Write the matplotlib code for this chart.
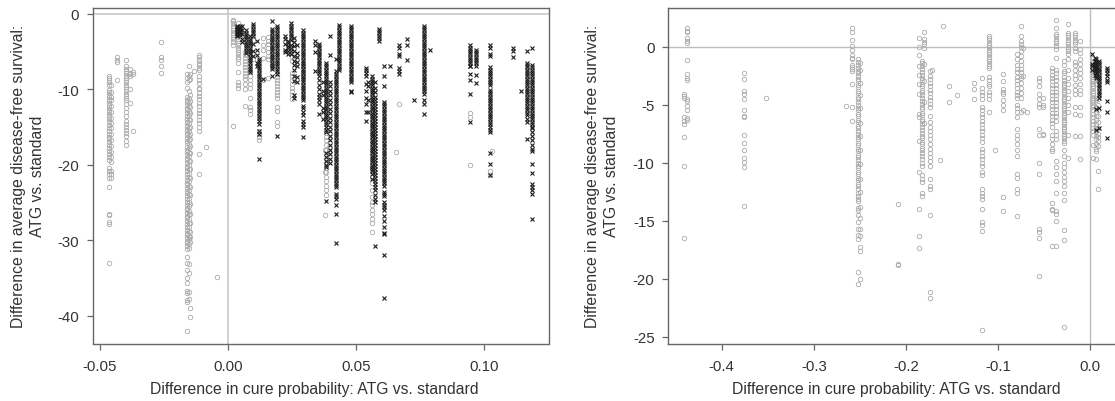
import matplotlib
matplotlib.use("Agg")
import matplotlib.pyplot as plt

plt.rcParams["font.family"] = ["Liberation Sans", "DejaVu Sans"]
plt.rcParams["axes.unicode_minus"] = False

XLABEL = "Difference in cure probability: ATG vs. standard"
YLABEL = "Difference in average disease-free survival:\nATG vs. standard"

# left panel, grey circles: one x per vertical column
left_grey_x = [-0.0464, -0.0454, -0.0434, -0.0398, -0.0380, -0.0372, -0.0262,
               -0.0160, -0.0153, -0.0146, -0.0133, -0.0114, -0.0086, -0.0044,
               0.0020, 0.0040, 0.0066, 0.0088, 0.0098, 0.0120, 0.0137, 0.0156,
               0.0172, 0.0190, 0.0250, 0.0293, 0.0382, 0.0395, 0.0560, 0.0668,
               0.0655, 0.0944, 0.1020, 0.1030, 0.0380]
left_grey_y = [
    [-8.2, -8.5, -8.8, -9.1, -9.5, -10.1, -10.4, -10.8, -11.1, -11.4, -11.8, -12.1, -12.4, -12.7,
     -13.0, -13.4, -13.7, -14.0, -14.3, -14.7, -15.1, -15.5, -15.9, -16.3, -16.6, -17.0, -17.4,
     -17.8, -18.2, -18.6, -19.0, -19.4, -20.5, -20.9, -21.2, -21.8, -22.9, -26.5, -26.7, -27.6, -27.9, -33.0],
    [-9.5, -10.4, -11.0, -11.5, -12.2, -13.0, -13.8, -14.5, -15.2, -16.0, -16.8, -17.5, -18.3,
     -19.0, -19.6, -20.8, -21.3, -21.8],
    [-5.8, -6.1, -6.4, -8.8],
    [-6.1, -7.0, -7.3, -7.6, -7.9, -8.2, -8.5, -8.8, -9.1, -9.4, -9.7, -10.0, -10.3, -10.6, -10.9,
     -11.2, -11.5, -12.0, -12.5, -13.0, -13.5, -14.2, -14.6, -15.0, -15.4, -15.8, -16.2, -16.9, -17.4],
    [-7.3, -7.8, -8.0, -8.3, -10.0, -11.8],
    [-7.7, -8.0, -15.6],
    [-3.8, -5.7, -6.2, -7.0, -7.8],
    [-8.0, -8.5, -9.0, -9.8, -11.0, -11.4, -11.7, -12.1, -12.5, -12.8, -13.2, -13.6, -13.9, -14.3, -14.7,
     -15.0, -15.4, -15.8, -16.1, -16.5, -16.9, -17.2, -17.6, -18.0, -18.3, -18.7, -19.1, -19.4, -19.8,
     -20.2, -20.5, -20.9, -21.3, -21.6, -22.0, -22.4, -22.7, -23.1, -23.5, -23.8, -24.2, -24.6, -24.9,
     -25.3, -25.7, -26.0, -26.4, -26.8, -27.1, -27.5, -27.9, -28.2, -28.6, -29.0, -29.3, -29.7, -30.1,
     -30.4, -30.8, -31.2, -32.3, -33.0, -33.9, -35.0, -35.7, -36.8, -37.0, -38.0, -38.2, -42.0],
    [-7.0, -8.2, -8.8, -10.2, -11.2, -11.8, -12.3, -12.9, -13.4, -14.0, -14.5, -15.1, -15.6, -16.2, -16.7,
     -17.3, -17.8, -18.4, -18.9, -19.5, -20.0, -20.6, -21.1, -21.7, -22.2, -22.8, -23.3, -23.9, -24.4,
     -25.0, -25.5, -26.1, -26.6, -27.2, -27.7, -28.3, -28.8, -29.4, -29.9, -30.5, -31.0, -33.2, -34.4,
     -36.9, -37.8],
    [-8.0, -8.6, -10.8, -11.6, -12.4, -13.2, -14.1, -15.0, -15.9, -16.6, -17.5, -18.4, -19.5, -20.6,
     -21.8, -22.9, -24.0, -25.2, -26.6, -27.8, -28.9, -29.6, -30.2, -39.0, -40.2],
    [-7.6],
    [-5.5, -5.8, -6.2, -6.5, -6.8, -7.2, -7.5, -8.2, -8.8, -9.2, -9.8, -10.0, -10.5, -10.9, -11.3,
     -11.8, -12.2, -12.7, -13.1, -13.6, -14.1, -14.5, -15.0, -15.6, -18.6, -21.2],
    [-17.6],
    [-34.9],
    [-0.8, -1.0, -1.3, -1.6, -1.9, -2.2, -2.5, -2.8, -3.1, -3.4, -3.8, -4.2, -14.9],
    [-1.2, -3.0, -3.3, -3.6, -3.9, -4.2, -4.5, -4.8, -5.1, -5.4, -5.7, -6.0, -6.5, -7.7, -9.0, -9.4, -9.8],
    [-5.1, -5.5, -5.9, -6.3, -6.7, -7.1, -7.5, -7.9, -8.3, -8.7, -9.3, -10.0, -12.3],
    [-7.7, -8.2, -8.8, -9.3, -9.8, -11.2, -12.4, -12.8, -13.3],
    [-3.0, -3.5, -6.0],
    [-15.5, -15.9, -16.3, -16.8],
    [-3.2, -4.2, -4.8, -5.9, -8.8],
    [-3.1, -3.6, -4.0, -4.6, -5.1, -5.6, -6.0, -8.5],
    [-6.8],
    [-8.0, -8.4, -8.8, -9.2, -9.6, -10.0, -10.4, -10.8, -11.2, -12.4, -12.9, -14.4, -14.9],
    [-5.8, -6.3, -7.8, -8.3, -8.8, -9.3, -9.8, -10.3, -10.8, -11.3],
    [-7.0, -7.7, -8.2],
    [-15.8, -16.3, -16.8, -17.4, -18.0, -18.6, -19.2, -19.8, -20.4, -21.0, -21.6, -22.2, -22.8, -23.4, -24.0],
    [-17.6, -18.2],
    [-20.5, -21.6, -22.4, -23.4, -24.3, -24.9, -25.4, -26.0, -26.6, -27.2, -27.7, -28.9],
    [-12.0],
    [-18.3],
    [-13.2, -13.7, -20.1],
    [-20.9, -21.4],
    [-18.2],
    [-18.0, -21.0, -26.7],
]

# left panel, black crosses
left_black_x = [0.0036, 0.0046, 0.0056, 0.0072, 0.0088, 0.0098, 0.0112, 0.0120, 0.0138,
                0.0172, 0.0190, 0.0222, 0.0234, 0.0246, 0.0258, 0.0268, 0.0293, 0.0340,
                0.0355, 0.0372, 0.0382, 0.0400, 0.0421, 0.0434, 0.0480, 0.0538, 0.0548,
                0.0560, 0.0574, 0.0590, 0.0608, 0.0632, 0.0668, 0.0698, 0.0725, 0.0764,
                0.0787, 0.0944, 0.0968, 0.1020, 0.1113, 0.1143, 0.1167, 0.1187]
left_black_y = [
    [-1.6, -1.8, -2.0, -2.2, -2.4, -2.6, -2.8, -3.0],
    [-1.7, -1.9, -2.1, -2.3, -2.5, -2.8],
    [-1.6, -2.1, -2.7, -3.3, -3.7],
    [-2.2, -2.5, -2.8, -3.1, -3.4, -3.7, -4.0, -4.3, -4.6, -4.9, -5.2],
    [-3.0, -3.3, -3.6, -3.9, -4.2, -4.5, -4.8, -5.1, -5.4, -5.7, -6.0, -6.3, -6.6, -6.9, -7.2, -7.5, -7.7],
    [-1.4, -1.7, -2.0, -2.3, -2.6, -2.9, -4.0, -5.0, -5.6],
    [-3.6, -4.8, -5.5, -6.6, -7.0],
    [-6.0, -6.3, -6.6, -6.9, -7.2, -7.5, -7.8, -8.1, -8.4, -8.7, -9.0, -9.3, -9.6, -9.9, -10.2, -10.5, -10.8,
     -11.1, -11.4, -11.7, -12.0, -12.3, -12.6, -12.9, -13.2, -13.5, -13.8, -14.2, -14.6, -15.5, -16.0, -19.3],
    [-8.6],
    [-1.0, -2.0, -2.3, -2.6, -2.9, -3.2, -3.5, -3.8, -4.1, -4.4, -4.7, -5.0, -5.3, -5.6, -5.9, -6.2, -6.5,
     -6.8, -7.1, -7.3, -8.2],
    [-1.6, -1.9, -2.2, -2.5, -2.8, -3.1, -3.4, -3.7, -4.0, -4.3, -4.6, -4.9, -5.2, -5.5, -5.8, -6.1, -6.4,
     -6.7, -7.0, -7.3, -7.6, -8.0, -16.2],
    [-3.0, -3.4, -4.0, -4.8, -5.1],
    [-3.6, -3.9, -4.3, -4.6, -5.0, -5.4],
    [-1.3, -1.6, -1.9, -2.2, -2.5, -2.8, -3.1, -3.5, -4.2, -4.6, -5.0, -5.4],
    [-3.2, -3.8, -4.3, -4.9, -5.6, -6.3, -6.8, -7.4, -8.2, -8.9, -10.8, -11.2],
    [-4.2, -5.2, -5.8, -6.4, -7.0, -8.4, -9.0],
    [-2.2, -2.5, -2.8, -3.1, -3.4, -3.7, -4.0, -4.3, -4.6, -4.9, -5.2, -5.5, -5.8, -6.1, -6.4, -6.7, -7.0,
     -7.3, -7.6, -7.9, -8.2, -8.5, -8.8, -9.1, -9.4, -9.7, -10.0, -10.3, -10.6, -10.9, -11.2, -11.5,
     -12.2, -12.5, -13.0, -13.4, -14.2, -14.6, -15.0, -16.3],
    [-3.6, -4.2, -5.1, -7.6],
    [-4.0, -4.3, -4.6, -4.9, -5.2, -5.5, -5.8, -6.1, -6.4, -6.7, -7.0, -7.3, -7.6, -7.9, -8.2, -8.8, -9.4,
     -10.0, -10.6, -11.0, -11.5, -12.0, -13.3],
    [-9.0, -10.2, -10.8, -12.5, -13.0, -14.0],
    [-6.5, -6.8, -7.1, -7.4, -7.7, -8.0, -8.3, -8.6, -8.9, -9.2, -9.5, -9.8, -10.1, -10.4, -10.7, -11.0, -11.3,
     -11.6, -11.9, -12.2, -12.5, -12.8, -13.1, -13.4, -13.7, -14.0, -14.3, -14.6, -15.0, -15.4, -15.7,
     -18.5, -19.0, -19.5, -20.0, -20.3, -24.8],
    [-3.0, -5.5, -9.0, -9.6, -10.2, -10.8, -11.4, -12.0, -12.6, -13.2, -13.8, -14.4, -15.0, -15.6, -16.2,
     -16.8, -17.4, -18.0, -18.6, -19.2, -19.8],
    [-6.0, -7.6, -8.0, -8.3, -8.6, -8.9, -9.2, -9.5, -9.8, -10.1, -10.4, -10.7, -11.0, -11.3, -11.6, -11.9,
     -12.2, -12.5, -12.8, -13.1, -13.4, -13.7, -14.0, -14.3, -14.6, -14.9, -15.2, -15.5, -15.8, -16.1, -16.4,
     -16.7, -17.0, -17.3, -17.6, -17.9, -18.2, -18.5, -18.8, -19.1, -19.4, -19.7, -20.0, -20.3, -20.6, -20.9,
     -21.2, -21.5, -21.8, -22.1, -22.4, -22.7, -23.0, -23.9, -24.2, -24.6, -25.3, -26.6, -30.4],
    [-1.5, -1.8, -2.1, -2.4, -2.7, -3.0, -3.3, -3.6, -3.9, -4.2, -4.5, -4.8, -5.1, -5.4, -5.7, -6.0, -6.3,
     -6.6, -6.9, -7.2, -7.5],
    [-1.6, -1.9, -2.2, -2.5, -2.8, -3.1, -3.4, -3.7, -4.0, -4.3, -4.6, -4.9, -5.2, -5.5, -5.8, -6.1, -6.4,
     -6.7, -7.0, -7.3, -7.6, -7.9, -8.2, -8.5, -8.8, -9.0, -10.2, -10.4],
    [-7.2, -7.5, -7.8, -8.2, -9.3, -10.2, -11.2, -12.0, -13.0, -14.2],
    [-9.0, -9.6, -11.4, -13.0],
    [-8.3, -8.6, -8.9, -9.2, -9.5, -9.8, -10.1, -10.4, -10.7, -11.0, -11.3, -11.6, -11.9, -12.2, -12.5, -12.8,
     -13.1, -13.4, -13.7, -14.0, -14.3, -14.6, -14.9, -15.2, -15.5, -15.8, -16.1, -16.4, -16.7, -17.0, -17.3,
     -17.6, -17.9, -18.2, -18.5, -18.8, -19.1, -19.4, -19.7, -20.0, -20.3, -20.6, -20.9, -21.2, -21.9],
    [-9.0, -9.8, -10.4, -11.0, -11.4, -11.8, -12.2, -12.6, -13.0, -13.4, -13.8, -14.2, -14.6, -15.0, -15.4,
     -15.8, -16.2, -16.6, -17.0, -17.4, -17.8, -18.2, -18.6, -19.0, -19.4, -19.8, -20.2, -20.6, -21.0, -21.4,
     -21.8, -22.2, -22.6, -23.0, -23.4, -24.0, -24.6, -25.0, -30.8],
    [-2.0, -2.3, -2.6, -2.9, -3.2, -3.6],
    [-7.0, -8.3, -9.6, -11.7, -12.0, -12.3, -12.6, -12.9, -13.2, -13.5, -13.8, -14.1, -14.4, -14.7, -15.0, -15.3,
     -15.6, -15.9, -16.2, -16.5, -16.8, -17.1, -17.4, -17.7, -18.0, -18.3, -18.6, -18.9, -19.2, -19.5, -19.8,
     -20.1, -20.4, -20.7, -21.0, -21.3, -21.6, -21.9, -22.2, -22.5, -22.8, -23.6, -23.9, -24.2, -25.0, -25.3,
     -25.6, -26.0, -26.8, -27.5, -28.3, -29.0, -29.2, -32.0, -37.7],
    [-6.9],
    [-4.2, -4.6, -5.3, -5.6, -7.2, -7.6, -8.0],
    [-3.4, -4.1, -6.1],
    [-11.4],
    [-1.6, -1.9, -2.2, -2.5, -2.8, -3.1, -3.4, -3.7, -4.0, -4.3, -4.6, -4.9, -5.2, -5.5, -5.8, -6.1, -6.4, -6.7,
     -7.0, -7.3, -7.6, -7.9, -8.2, -8.5, -8.8, -9.1, -9.4, -9.7, -10.0, -10.3, -10.6, -11.4, -12.0, -13.3],
    [-4.8],
    [-4.2, -4.5, -4.8, -5.1, -5.4, -5.7, -6.0, -6.3, -6.6, -6.9, -7.0, -8.0, -8.8, -10.7, -14.3],
    [-4.8, -5.1, -5.4, -5.7, -6.0, -6.3, -6.6, -6.9, -8.1, -9.2],
    [-4.2, -4.6, -5.3, -5.6, -7.1, -7.4, -7.7, -8.0, -8.3, -8.6, -8.9, -9.2, -9.5, -10.1, -10.4, -10.7, -11.0,
     -11.3, -11.6, -11.9, -12.2, -12.5, -12.8, -13.1, -13.4, -13.7, -14.0, -14.3, -14.6, -15.0, -15.4, -15.7,
     -18.5, -19.9, -21.4],
    [-4.6, -4.9, -5.8],
    [-10.2],
    [-5.0, -6.5, -6.8, -7.1, -7.4, -7.7, -8.0, -8.3, -8.6, -8.9, -9.2, -9.5, -9.8, -10.1, -10.4, -10.7, -11.0,
     -11.3, -11.6, -11.9, -12.2, -12.5, -12.8, -13.1, -13.4, -14.0, -14.3, -16.6],
    [-4.6, -6.8, -7.1, -7.4, -7.7, -8.0, -8.3, -8.6, -8.9, -9.2, -9.5, -9.8, -10.1, -10.4, -10.7, -11.0, -11.3,
     -11.6, -11.9, -12.2, -12.5, -12.8, -13.1, -13.4, -13.7, -14.0, -14.3, -14.6, -15.0, -15.2, -15.7, -16.2,
     -16.7, -17.4, -17.9, -18.2, -19.9, -21.1, -22.6, -23.0, -23.4, -23.9, -27.2],
]

# right panel, grey circles
right_grey_x = [-0.4405, -0.4380, -0.3758, -0.3520, -0.2650, -0.2584, -0.2520, -0.2500, -0.2090, -0.1860,
                -0.1830, -0.1806, -0.1740, -0.1720, -0.1630, -0.1600, -0.1534, -0.1450, -0.1256, -0.1170,
                -0.1100, -0.1036, -0.0945, -0.0797, -0.0754, -0.0730, -0.0690, -0.0550, -0.0515, -0.0410,
                -0.0367, -0.0280, -0.0240, -0.0160, -0.0110, 0.0030, 0.0060, 0.0090]
right_grey_y = [
    [-4.05, -4.28, -4.4, -6.1, -6.4, -6.64, -7.76, -10.26, -16.5],
    [1.58, 1.38, 1.24, 0.72, 0.52, 0.34, -1.18, -2.39, -2.73, -2.9, -4.5, -4.65, -5.14, -5.43, -6.12, -6.3],
    [-2.3, -2.8, -3.8, -4.05, -4.55, -5.5, -6.0, -6.1, -7.6, -8.3, -8.9, -9.6, -9.95, -10.4, -13.7],
    [-4.4],
    [-5.1],
    [1.58, 1.28, 0.58, 0.05, -0.3, -0.72, -1.0, -1.05, -1.6, -1.75, -1.95, -2.1, -3.2, -5.2, -6.4],
    [-1.1, -1.3, -1.6, -1.8, -2.1, -2.3, -2.5, -2.8, -3.0, -3.3, -3.5, -3.8, -4.0, -4.3, -4.5, -4.8, -5.0, -5.3,
     -5.5, -5.8, -6.0, -6.3, -6.5, -6.8, -7.0, -7.3, -7.5, -7.8, -8.0, -8.3, -8.5, -8.8, -9.0, -9.3, -9.5, -9.8,
     -10.0, -10.3, -10.5, -10.8, -11.0, -11.3, -11.5, -11.8, -12.0, -12.3, -12.6, -12.9, -13.1, -13.3, -13.9,
     -14.1, -14.5, -15.1, -15.7, -16.2, -16.6, -19.4, -20.5],
    [-1.4, -2.0, -3.1, -4.2, -5.3, -6.6, -7.7, -8.9, -10.1, -11.4, -12.5, -13.8, -14.8, -15.7, -16.3, -17.3, -17.6, -20.0],
    [-13.6, -18.7, -18.8],
    [0.78, 0.0, -0.7, -1.64, -2.4, -3.2, -4.1, -5.8, -6.1, -8.1, -10.8, -14.0, -16.3, -17.4],
    [-1.2, -1.4, -1.7, -1.9, -2.2, -2.4, -2.7, -2.9, -3.2, -3.4, -3.7, -3.9, -4.2, -4.4, -4.7, -4.9, -5.2, -5.4,
     -5.7, -5.9, -6.2, -6.4, -6.7, -6.9, -7.2, -7.4, -7.7, -7.9, -8.2, -8.4, -8.7, -8.9, -9.2, -9.4, -9.7,
     -10.0, -10.3, -11.1, -11.4, -11.7, -12.6, -12.9],
    [1.3, 0.7, 0.45, 0.25, -0.15, -1.5, -3.0, -4.8, -6.6],
    [-2.07, -2.5, -2.8, -3.1, -3.4, -3.7, -4.0, -4.3, -4.6, -4.9, -5.2, -6.0, -6.5, -6.9, -7.3, -7.6, -8.0, -8.4,
     -8.8, -9.2, -9.5, -9.9, -10.3, -11.4, -12.0, -12.3, -14.5, -21.2, -21.7],
    [-2.0],
    [-9.74],
    [1.8],
    [-3.4, -4.74],
    [-4.2],
    [-3.13, -3.65, -4.5],
    [-2.7, -3.6, -3.9, -4.2, -4.5, -5.2, -5.5, -5.8, -6.1, -6.4, -6.7, -7.0, -7.3, -7.6, -7.9, -8.25, -8.8, -9.1,
     -9.4, -9.7, -10.0, -10.3, -10.8, -11.1, -12.3, -12.6, -12.9, -13.1, -14.0, -15.1, -15.4, -15.9, -24.4],
    [0.95, 0.75, 0.55, 0.35, 0.15, -0.05, -0.25, -0.45, -0.65, -0.85, -1.05, -1.25, -1.45, -1.65, -1.8,
     -2.6, -2.9, -3.2, -3.4, -3.9, -4.2, -4.5, -5.66],
    [-8.9],
    [-2.35, -2.92, -3.65, -3.9, -4.1, -4.6, -5.0, -5.45, -13.0, -14.2],
    [-0.6, -1.1, -1.6, -1.9, -2.2, -2.6, -2.9, -3.2, -3.6, -3.9, -4.2, -4.4, -5.0, -5.3, -5.6, -6.1, -7.1, -7.6,
     -8.0, -8.4, -8.9, -9.4, -11.0, -11.3, -12.3, -12.6, -14.6],
    [1.8, 0.9, 0.5, 0.2, 0.0, -0.4, -0.8, -1.2, -1.6, -1.9, -2.2, -2.5, -2.7, -3.1, -3.6, -4.0, -4.4, -5.6],
    [-0.1, -2.5, -5.5],
    [-5.6],
    [-2.7, -3.0, -3.4, -4.1, -4.5, -4.9, -5.2, -7.1, -7.6, -10.0, -11.0, -15.7, -16.0, -16.5, -19.8],
    [-4.4, -5.0, -5.2, -7.5, -7.6],
    [-1.8, -2.1, -2.4, -2.7, -3.0, -3.3, -3.6, -3.9, -4.2, -4.5, -4.8, -5.1, -5.4, -5.7, -6.0, -6.3, -6.6, -6.9,
     -7.6, -8.0, -8.4, -8.8, -9.0, -13.5, -14.0, -14.1, -17.2],
    [2.3, 1.6, 1.1, 0.9, 0.7, 0.5, 0.3, 0.1, -0.2, -1.0, -2.0, -2.3, -2.6, -2.9, -3.3, -3.6, -3.9, -4.2, -4.5,
     -4.8, -5.1, -5.4, -5.7, -6.0, -6.4, -7.3, -7.6, -8.0, -9.9, -10.4, -11.0, -11.6, -12.6, -14.2, -14.4, -15.0,
     -17.2],
    [-1.2, -1.6, -2.1, -2.3, -2.6, -2.9, -3.1, -3.3, -3.5, -3.7, -3.9, -4.1, -4.3, -4.5, -4.7, -4.9, -5.1, -5.3,
     -5.5, -5.7, -5.9, -6.1, -6.3, -6.5, -6.7, -6.9, -7.1, -7.3, -7.5, -7.7, -7.9, -8.1, -8.3, -8.9, -9.4, -10.0,
     -10.4, -10.8, -11.2, -11.6, -12.0, -12.6, -13.2, -15.8, -16.7, -24.2],
    [2.0, 1.2, 1.0, 0.8, 0.6, 0.4, 0.2, 0.0, -0.2, -0.4, -0.6, -1.1, -2.0, -2.7, -3.2, -3.8, -4.4, -5.0, -5.6, -7.6, -9.6],
    [1.2, 1.0, 0.8, 0.6, 0.4, 0.2, -0.1, -0.4, -1.3, -1.6, -2.0, -2.4, -2.8, -3.3, -3.7, -4.1, -5.2, -5.8, -7.7],
    [0.5, -0.2, -0.5, -1.1, -1.5, -1.9, -2.3, -2.7, -3.2, -3.7, -4.1, -5.2, -5.9, -7.7, -9.7],
    [-1.0, -1.2, -1.4, -1.6, -1.8, -2.0, -2.2, -2.4, -2.6, -2.8, -3.0, -3.2, -3.4, -3.6, -3.8, -4.0, -4.2,
     -4.4, -4.6, -4.8, -5.0, -5.2, -5.5, -5.8, -6.1, -6.4, -6.7, -7.0, -7.3, -7.6, -8.5, -9.6],
    [-2.4, -3.2, -4.4, -4.6, -5.2, -5.6, -6.0, -6.3, -6.7, -7.0, -7.3, -7.7, -8.0, -8.4, -8.8, -9.0, -9.7],
    [-3.0, -4.5, -5.0, -5.5, -6.0, -6.5, -7.0, -7.5, -7.8, -8.1, -8.6, -10.7, -12.3],
]

# right panel, black crosses
right_black_x = [0.0025, 0.0048, 0.0067, 0.0092, 0.0182]
right_black_y = [
    [-0.6, -1.5, -1.7, -2.0],
    [-1.0, -1.2, -1.5, -1.7, -1.9, -2.1, -2.4],
    [-1.1, -1.3, -1.5, -1.7, -1.9, -2.1, -2.3, -2.5, -2.7, -5.4, -7.2],
    [-1.2, -1.4, -1.6, -1.8, -2.0, -2.2, -2.4, -2.6, -2.8, -3.0, -3.2, -3.4, -3.6, -3.8, -4.0, -4.2, -4.4, -5.3, -7.0],
    [-1.8, -2.05, -2.3, -2.55, -2.85, -3.05, -4.65, -5.66, -7.9],
]

GREY = "#ababab"
BLACK = "#1c1c1c"
TEXT = "#333333"
SPINE = "#666666"
W, H = 1115, 402

fig = plt.figure(figsize=(W / 100, H / 100), dpi=100)


def make_axes(x0, x1, xlim, ylim, xticks, xfmt, yticks, line_w, line_c):
    ax = fig.add_axes([x0 / W, (H - 344.5) / H, (x1 - x0) / W, 335.5 / H])
    ax.set_xlim(*xlim)
    ax.set_ylim(*ylim)
    ax.set_xticks(xticks)
    ax.set_xticklabels([xfmt % t for t in xticks])
    ax.set_yticks(yticks)
    ax.tick_params(length=4.5, width=0.9, color=SPINE, labelsize=10.8, labelcolor=TEXT, pad=5)
    ax.tick_params(axis="x", pad=7)
    for s in ax.spines.values():
        s.set_color(SPINE)
        s.set_linewidth(1.0)
    ax.axhline(0, color=line_c, lw=line_w, zorder=1)
    ax.axvline(0, color=line_c, lw=line_w, zorder=1)
    return ax


def draw(ax, gx, gy, bx, by):
    for x, ys in zip(gx, gy):
        ax.plot([x] * len(ys), ys, ls="none", marker="o", ms=3.2, mfc="none",
                mec=GREY, mew=0.6, zorder=2, clip_on=True)
    for x, ys in zip(bx, by):
        ax.plot([x] * len(ys), ys, ls="none", marker="x", ms=3.0, mec=BLACK,
                mew=0.8, zorder=3, clip_on=True)


ax1 = make_axes(92.5, 549, (-0.0528, 0.1252), (-43.7, 0.75),
                [-0.05, 0.0, 0.05, 0.10], "%.2f", [0, -10, -20, -30, -40], 1.2, "#c8c8c8")
draw(ax1, left_grey_x, left_grey_y, left_black_x, left_black_y)

ax2 = make_axes(667.7, 1118, (-0.4586, 0.0303), (-25.6, 3.34),
                [-0.4, -0.3, -0.2, -0.1, 0.0], "%.1f", [0, -5, -10, -15, -20, -25], 1.0, "#bdbdbd")
draw(ax2, right_grey_x, right_grey_y, right_black_x, right_black_y)

for cx in (28, 602):
    fig.text(cx / W, 1 - 176 / H, YLABEL, ha="center", va="center", rotation=90,
             fontsize=11.3, color=TEXT, linespacing=1.3, multialignment="center")
for cx in (314, 896):
    fig.text(cx / W, 1 - 390 / H, XLABEL, ha="center", va="center", fontsize=11.3, color=TEXT)

fig.savefig("out.png", dpi=100)
